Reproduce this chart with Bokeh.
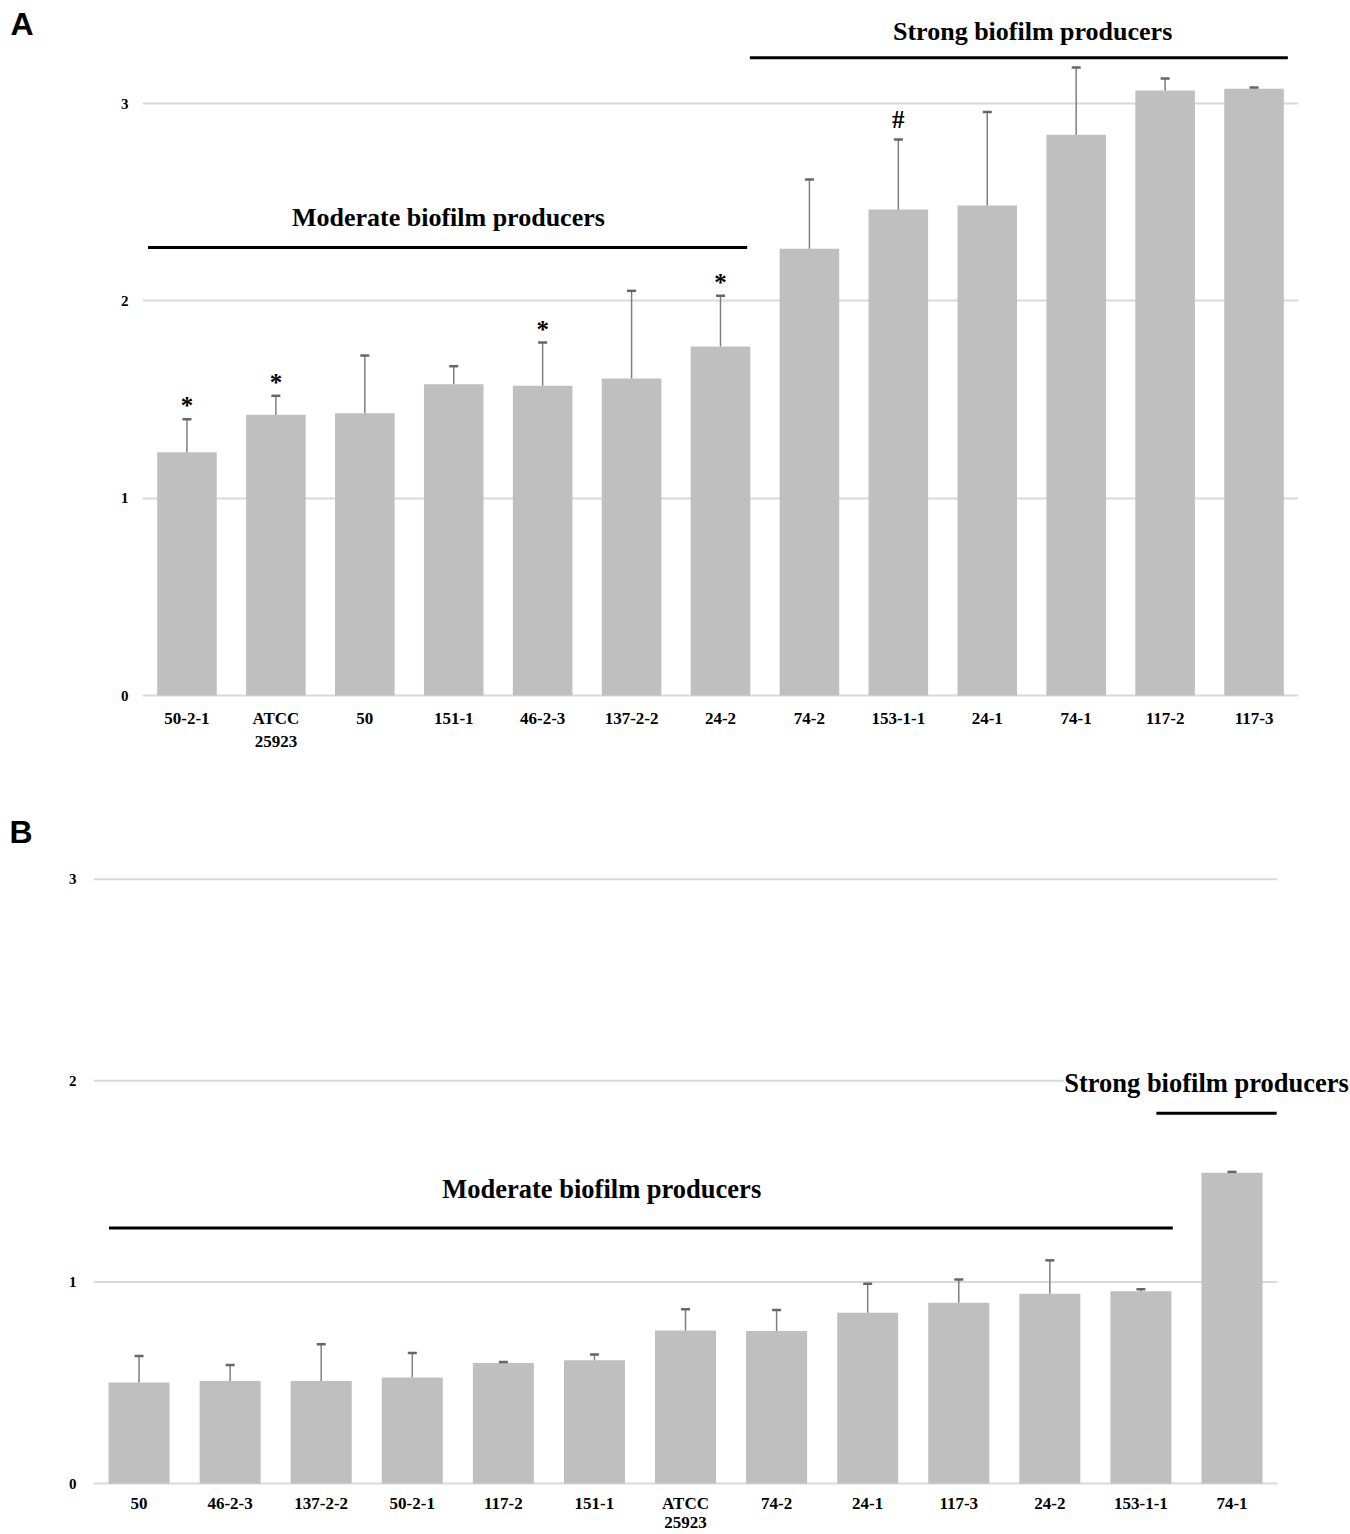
from bokeh.plotting import figure
from bokeh.models import (FixedTicker, ColumnDataSource, Whisker, TeeHead, Label,
                          LabelSet, Range1d, LinearAxis)
from bokeh.core.properties import value
from bokeh.embed import file_html
from bokeh.resources import INLINE

# ---------------- data ----------------
a_labels = ["50-2-1", "ATCC\n25923", "50", "151-1", "46-2-3", "137-2-2", "24-2",
            "74-2", "153-1-1", "24-1", "74-1", "117-2", "117-3"]
a_values = [1.233, 1.423, 1.431, 1.578, 1.570, 1.607, 1.769,
            2.264, 2.463, 2.483, 2.842, 3.066, 3.075]
a_errors = [0.167, 0.096, 0.292, 0.091, 0.219, 0.444, 0.257,
            0.351, 0.355, 0.474, 0.341, 0.061, 0.007]
a_marks = ["*", "*", "", "", "*", "", "*", "", "#", "", "", "", ""]

b_labels = ["50", "46-2-3", "137-2-2", "50-2-1", "117-2", "151-1", "ATCC\n25923",
            "74-2", "24-1", "117-3", "24-2", "153-1-1", "74-1"]
b_values = [0.501, 0.509, 0.509, 0.526, 0.598, 0.612, 0.760,
            0.757, 0.848, 0.898, 0.942, 0.955, 1.543]
b_errors = [0.132, 0.079, 0.182, 0.122, 0.005, 0.029, 0.105,
            0.104, 0.144, 0.115, 0.166, 0.009, 0.004]

y_ticks = [0, 1, 2, 3]
group_moderate = "Moderate biofilm producers"
group_strong = "Strong biofilm producers"

BAR = "#bfbfbf"
ERR = "#7f7f7f"
GRID = "#d9d9d9"
SERIF = "Liberation Serif"


def make_panel(labels, values, errors, width, height, x_range, y_range, borders,
               line_height, x_standoff, y_standoff, builtin_grid):
    n = len(labels)
    left, right, top, bottom = borders
    p = figure(width=width, height=height, x_range=Range1d(*x_range),
               y_range=Range1d(*y_range), output_backend="svg",
               toolbar_location=None, tools="",
               min_border_left=left, min_border_right=right,
               min_border_top=top, min_border_bottom=bottom)
    p.outline_line_color = None
    p.background_fill_color = "white"
    p.border_fill_color = "white"

    p.xgrid.grid_line_color = None
    if builtin_grid:
        p.ygrid.grid_line_color = GRID
        p.ygrid.grid_line_width = 2
    else:
        p.ygrid.grid_line_color = None
        p.segment(x0=[-0.5] * len(y_ticks), x1=[n - 0.5] * len(y_ticks),
                  y0=y_ticks, y1=y_ticks, line_color=GRID, line_width=2)

    xs = list(range(n))
    src = ColumnDataSource(dict(x=xs, top=values,
                                upper=[v + e for v, e in zip(values, errors)]))
    p.vbar(x="x", top="top", bottom=0, width=0.67, source=src,
           fill_color=BAR, line_color=None)
    p.add_layout(Whisker(base="x", lower="top", upper="upper", source=src,
                         line_color=ERR, line_width=1.5, level="glyph",
                         upper_head=TeeHead(size=9, line_color="#666666",
                                            line_width=2.5),
                         lower_head=None))

    p.xaxis.ticker = FixedTicker(ticks=xs)
    p.xaxis.major_label_overrides = {i: lab for i, lab in enumerate(labels)}
    p.yaxis.ticker = FixedTicker(ticks=y_ticks)
    for ax in (p.xaxis, p.yaxis):
        ax.axis_line_color = None
        ax.major_tick_line_color = None
        ax.minor_tick_line_color = None
        ax.major_label_text_font = SERIF
        ax.major_label_text_font_style = "bold"
        ax.major_label_text_color = "black"
    p.xaxis.major_label_text_font_size = "17px"
    p.xaxis.major_label_text_line_height = line_height
    p.xaxis.major_label_standoff = x_standoff
    p.yaxis.major_label_text_font_size = "15px"
    p.yaxis.major_label_standoff = y_standoff
    return p


def group_label(p, x, y, text, size="26px", bg=None):
    lab = Label(x=x, y=y, text=text, text_font=SERIF, text_font_style="bold",
                text_font_size=size, text_align="center", text_baseline="middle",
                text_color="black")
    if bg:
        lab.background_fill_color = bg
    p.add_layout(lab)


def panel_letter(p, y, text, standoff):
    # the panel letter is drawn as the single label of an outer left axis
    ax = LinearAxis(ticker=FixedTicker(ticks=[y]),
                    major_label_overrides={y: text},
                    axis_line_color=None, major_tick_line_color=None,
                    minor_tick_line_color=None,
                    major_label_text_font="Liberation Sans",
                    major_label_text_font_style="bold",
                    major_label_text_font_size="32px",
                    major_label_text_color="black",
                    major_label_standoff=standoff)
    p.add_layout(ax, "left")


# ---------------- panel A ----------------
pa = make_panel(a_labels, a_values, a_errors, 1350, 758,
                (-0.5, len(a_labels) - 0.5), (-0.0152, 3.4312),
                (142, 52, 18, 60), 1.25, 4, 8, True)

star_idx = [i for i, m in enumerate(a_marks) if m == "*"]
hash_idx = [i for i, m in enumerate(a_marks) if m == "#"]
for idx, off in ((star_idx, 5), (hash_idx, 11)):
    s = ColumnDataSource(dict(x=idx,
                              y=[a_values[i] + a_errors[i] for i in idx],
                              t=[a_marks[i] for i in idx]))
    pa.add_layout(LabelSet(x="x", y="y", text="t", source=s, y_offset=off,
                           text_align="center", text_baseline="alphabetic",
                           text_font=value(SERIF), text_font_style="bold",
                           text_font_size="25px", text_color="black"))

pa.segment(x0=[-0.438], y0=[2.271], x1=[6.30], y1=[2.271],
           line_color="black", line_width=3)
pa.segment(x0=[6.33], y0=[3.232], x1=[12.38], y1=[3.232],
           line_color="black", line_width=3)
group_label(pa, 2.94, 2.424, group_moderate)
group_label(pa, 9.51, 3.364, group_strong)
panel_letter(pa, 3.403, "A", 78)

# ---------------- panel B ----------------
pb = make_panel(b_labels, b_values, b_errors, 1350, 776,
                (-0.5, 13.301), (-0.0099, 3.391),
                (93, 0, 42, 48), 1.0, 2, 11, False)
pb.segment(x0=[-0.33], y0=[1.269], x1=[11.35], y1=[1.269],
           line_color="black", line_width=3)
pb.segment(x0=[11.17], y0=[1.838], x1=[12.49], y1=[1.838],
           line_color="black", line_width=3)
group_label(pb, 5.08, 1.463, group_moderate, size="26.5px")
group_label(pb, 11.72, 1.99, group_strong, size="26.5px", bg="white")
panel_letter(pb, 3.235, "B", 27)

open("out.html", "w").write(file_html([pa, pb], INLINE))
